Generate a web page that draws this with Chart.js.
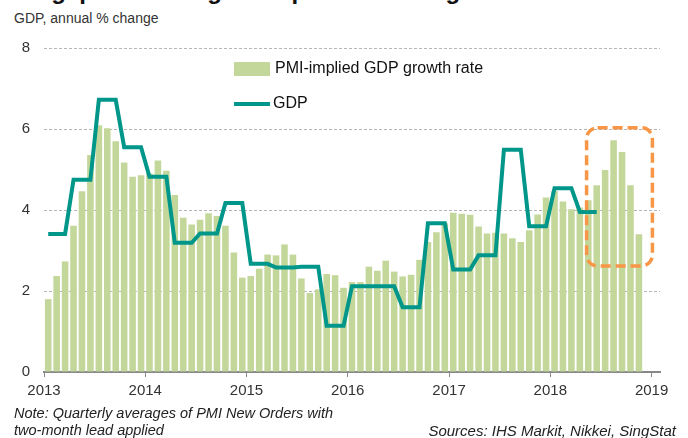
<!DOCTYPE html>
<html>
<head>
<meta charset="utf-8">
<script src="https://cdn.jsdelivr.net/npm/chart.js@4.4.1/dist/chart.umd.min.js"></script>
<style>
  body{margin:0;width:688px;height:438px;overflow:hidden;background:#fff;position:relative;font-family:"Liberation Sans",Arial,sans-serif;color:#333}
  #wrap{position:absolute;left:0;top:0;width:688px;height:438px}
  .txt{position:absolute;white-space:nowrap}
  #title{left:14px;top:-21px;font-size:24px;line-height:24px;font-weight:bold;color:#111}
  #sub{left:14px;top:10px;font-size:14px;line-height:16px}
  .note{font-size:15px;line-height:17px;font-style:italic;color:#222}
</style>
</head>
<body>
<div class="txt" id="title">Singapore PMI signals upturn in GDP growth</div>
<div class="txt" id="sub">GDP, annual % change</div>
<div id="wrap"><canvas id="chart"></canvas></div>
<div class="txt note" style="left:14px;top:405px;font-size:14.5px">Note: Quarterly averages of PMI New Orders with</div>
<div class="txt note" style="left:14px;top:422px;font-size:14.5px">two-month lead applied</div>
<div class="txt note" style="right:12px;top:422px">Sources: IHS Markit, Nikkei, SingStat</div>
<script>
// monthly bars, Jan 2013 .. Nov 2018
const pmiImplied = [
  1.80, 2.37, 2.73, 3.61, 4.46, 5.36, 6.09, 6.02, 5.70, 5.17, 4.82, 4.86,
  4.90, 5.22, 4.97, 4.37, 3.81, 3.64, 3.76, 3.92, 3.85, 3.61, 2.95, 2.33,
  2.37, 2.55, 2.90, 2.88, 3.15, 2.90, 2.31, 1.95, 2.04, 2.42, 2.39, 2.08,
  2.22, 2.22, 2.60, 2.50, 2.75, 2.48, 2.36, 2.40, 2.77, 3.21, 3.45, 3.67,
  3.93, 3.91, 3.88, 3.59, 3.42, 3.44, 3.42, 3.30, 3.21, 3.50, 3.89, 4.31,
  4.47, 4.21, 4.02, 4.06, 4.24, 4.61, 4.99, 5.72, 5.43, 4.61, 3.40
];
// quarterly GDP, Q1 2013 .. Q2 2018
const gdpQuarterly = [
  3.41, 4.75, 6.72, 5.55,
  4.82, 3.19, 3.42, 4.17,
  2.67, 2.58, 2.60, 1.14,
  2.12, 2.12, 1.60, 3.67,
  2.53, 2.88, 5.49, 3.60,
  4.54, 3.95
];
const yearLabels = ['2013', '2014', '2015', '2016', '2017', '2018', '2019'];
const yTicks = [0, 2, 4, 6, 8];
// highlighted area: months since Jan 2013 and % values
const boxMonths = [64.3, 72.1];
const boxValues = [2.62, 6.03];

const BAR = '#c4d79b', LINE = '#00968a', ORANGE = '#f79646';

const barPoints = pmiImplied.map((v, i) => ({x: i + 0.5, y: v}));
const gdpPoints = [];
gdpQuarterly.forEach((v, q) => {
  for (let m = 0; m < 3; m++) gdpPoints.push({x: q * 3 + m + 0.5, y: v});
});

const overlay = {
  id: 'overlay',
  afterDatasetsDraw(chart) {
    const {ctx, scales: {x, y}} = chart;
    ctx.save();
    // dashed highlight box
    const l = x.getPixelForValue(boxMonths[0]), r = x.getPixelForValue(boxMonths[1]);
    const t = y.getPixelForValue(boxValues[1]), b = y.getPixelForValue(boxValues[0]);
    ctx.strokeStyle = ORANGE;
    ctx.lineWidth = 3.5;
    ctx.setLineDash([10, 5]);
    ctx.beginPath();
    ctx.roundRect(l, t, r - l, b - t, 11);
    ctx.stroke();
    ctx.setLineDash([]);
    // legend
    ctx.font = '16px "Liberation Sans", Arial, sans-serif';
    ctx.textBaseline = 'middle';
    ctx.fillStyle = BAR;
    ctx.fillRect(234, 62, 36, 14);
    ctx.fillStyle = '#111';
    ctx.fillText(chart.data.datasets[0].label, 275, 69);
    ctx.strokeStyle = LINE;
    ctx.lineWidth = 4;
    ctx.beginPath();
    ctx.moveTo(234, 104);
    ctx.lineTo(270, 104);
    ctx.stroke();
    ctx.fillText(chart.data.datasets[1].label, 273, 104);
    ctx.restore();
  }
};

new Chart(document.getElementById('chart'), {
  data: {
    datasets: [{
      type: 'bar',
      label: 'PMI-implied GDP growth rate',
      data: barPoints,
      backgroundColor: BAR,
      categoryPercentage: 1,
      barPercentage: 0.78,
      order: 2
    }, {
      type: 'line',
      label: 'GDP',
      data: gdpPoints,
      borderColor: LINE,
      borderWidth: 4,
      pointRadius: 0,
      tension: 0,
      borderJoinStyle: 'miter',
      order: 1
    }]
  },
  options: {
    responsive: true,
    maintainAspectRatio: false,
    animation: false,
    layout: {padding: {top: 48, right: 28, left: 0, bottom: 0}},
    plugins: {legend: {display: false}, tooltip: {enabled: false}},
    scales: {
      x: {
        type: 'linear',
        offset: false,
        min: 0,
        max: 73,
        afterBuildTicks: s => { s.ticks = yearLabels.map((lab, i) => ({value: i * 12})); },
        afterFit: s => { s.height = 66; },
        ticks: {
          callback: v => yearLabels[v / 12],
          color: '#333',
          font: {size: 15, family: '"Liberation Sans", Arial, sans-serif'},
          padding: 5,
          maxRotation: 0
        },
        grid: {offset: false, drawOnChartArea: false, drawTicks: true, tickLength: 5, color: '#888', lineWidth: 1},
        border: {color: '#888', width: 2}
      },
      y: {
        min: 0,
        max: 8,
        afterBuildTicks: s => { s.ticks = yTicks.map(v => ({value: v})); },
        afterFit: s => { s.width = 44; },
        ticks: {
          color: '#333',
          font: {size: 15, family: '"Liberation Sans", Arial, sans-serif'},
          padding: 14
        },
        grid: {color: '#b5b5b5', lineWidth: 1, drawTicks: false},
        border: {display: false, dash: [3, 2]}
      }
    }
  },
  plugins: [overlay]
});
</script>
</body>
</html>
